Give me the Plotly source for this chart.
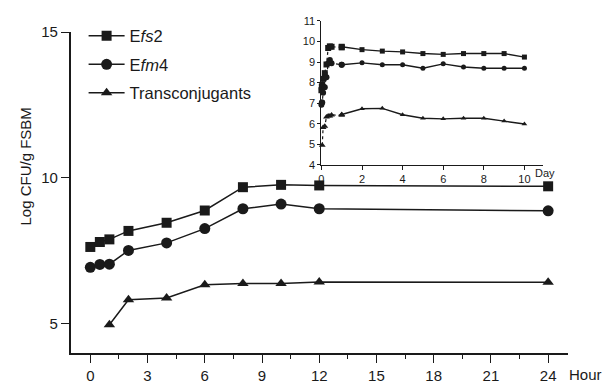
import plotly.graph_objects as go

# Main chart (hours)
hours = [0, 0.5, 1, 2, 4, 6, 8, 10, 12, 24]
efs2_h = [7.63, 7.80, 7.89, 8.18, 8.46, 8.88, 9.68, 9.76, 9.74, 9.71]
efm4_h = [6.93, 7.03, 7.04, 7.51, 7.77, 8.26, 8.94, 9.10, 8.94, 8.87]
trans_hours = [1, 2, 4, 6, 8, 10, 12, 24]
trans_h = [4.96, 5.82, 5.88, 6.33, 6.38, 6.38, 6.43, 6.42]

# Inset (days)
days = [1, 2, 3, 4, 5, 6, 7, 8, 9, 10]
efs2_d = [9.74, 9.60, 9.53, 9.49, 9.41, 9.37, 9.41, 9.41, 9.41, 9.24]
efm4_d = [8.87, 8.96, 8.87, 8.87, 8.70, 8.91, 8.76, 8.70, 8.70, 8.70]
trans_d = [6.45, 6.73, 6.75, 6.44, 6.27, 6.24, 6.27, 6.27, 6.13, 5.99]

names = ["E<i>fs</i>2", "E<i>fm</i>4", "Transconjugants"]
symbols = ["square", "circle", "triangle-up"]

INK = "#1a1a1a"
FONT = "Liberation Sans, Arial, sans-serif"
W, H = 603, 386

def px(x):
    return x / W

def py(y):
    return 1 - y / H

fig = go.Figure()

main_series = [(hours, efs2_h), (hours, efm4_h), (trans_hours, trans_h)]
for i, ((xs, ys), nm, sym) in enumerate(zip(main_series, names, symbols)):
    fig.add_trace(go.Scatter(
        x=xs, y=ys, name=nm, mode="lines+markers",
        line=dict(color=INK, width=1.5),
        marker=dict(symbol=sym, size=10 if sym != "circle" else 11, color=INK),
        legendgroup=str(i), cliponaxis=False,
        xaxis="x", yaxis="y"))

inset_series = [(hours, efs2_h, efs2_d), (hours, efm4_h, efm4_d), (trans_hours, trans_h, trans_d)]
for (hx, hy, dy), sym in zip(inset_series, symbols):
    ex = [h / 24 for h in hx] + [days[0]]
    ey = list(hy) + [dy[0]]
    fig.add_trace(go.Scatter(
        x=ex, y=ey, mode="lines+markers", showlegend=False,
        line=dict(color=INK, width=1.2, dash="dot"),
        marker=dict(symbol=sym, size=6, color=INK),
        cliponaxis=False, xaxis="x2", yaxis="y2"))
    fig.add_trace(go.Scatter(
        x=days, y=dy, mode="lines+markers", showlegend=False,
        line=dict(color=INK, width=1.4),
        marker=dict(symbol=sym, size=5, color=INK),
        cliponaxis=False, xaxis="x2", yaxis="y2"))

axis_common = dict(showgrid=False, zeroline=False, showline=True, linecolor=INK,
                   ticks="outside", tickcolor=INK, color=INK)

fig.update_layout(
    width=W, height=H,
    margin=dict(l=0, r=0, t=0, b=0),
    paper_bgcolor="white", plot_bgcolor="rgba(0,0,0,0)",
    font=dict(family=FONT, size=15, color=INK),
    xaxis=dict(**axis_common, domain=[px(68), px(568)], range=[-1.03, 25.05],
               tickvals=[0, 3, 6, 9, 12, 15, 18, 21, 24], ticklen=8, linewidth=1.5, tickwidth=1.3,
               minor=dict(dtick=1.5, tick0=0, ticklen=4, ticks="outside", tickcolor=INK, tickwidth=1.3),
               tickfont=dict(size=15), anchor="y"),
    yaxis=dict(**axis_common, domain=[py(357.7), py(24)], range=[4.0, 15],
               tickvals=[5, 10, 15], ticklen=8, linewidth=1.5, tickwidth=1.3,
               tickfont=dict(size=15), anchor="x"),
    xaxis2=dict(**axis_common, domain=[px(320), px(543)], range=[0, 10.93],
                tickvals=[0, 2, 4, 6, 8, 10], ticklen=4, linewidth=1.3,
                tickfont=dict(size=11), anchor="y2"),
    yaxis2=dict(**axis_common, domain=[py(162.3), py(12.3)], range=[4, 11],
                tickvals=[4, 5, 6, 7, 8, 9, 10, 11], ticklen=3, linewidth=1.3,
                tickfont=dict(size=11), anchor="x2"),
    legend=dict(x=px(81), y=py(10), xanchor="left", yanchor="top",
                bgcolor="rgba(0,0,0,0)", font=dict(size=16.5, family=FONT),
                traceorder="grouped", tracegroupgap=4, itemwidth=36),
    annotations=[
        dict(text="Log CFU/g FSBM", x=px(23), y=py(164), xref="paper", yref="paper",
             xanchor="center", yanchor="middle",
             textangle=-90, showarrow=False, font=dict(size=15)),
        dict(text="Hour", x=px(585), y=py(380), xref="paper", yref="paper",
             xanchor="center", yanchor="middle",
             showarrow=False, font=dict(size=15)),
        dict(text="Day", x=px(545), y=py(171), xref="paper", yref="paper",
             xanchor="center", yanchor="middle",
             showarrow=False, font=dict(size=11)),
    ],
)

fig.write_html("out.html", config={"displayModeBar": False},
               post_script="document.body.style.margin='0';")
